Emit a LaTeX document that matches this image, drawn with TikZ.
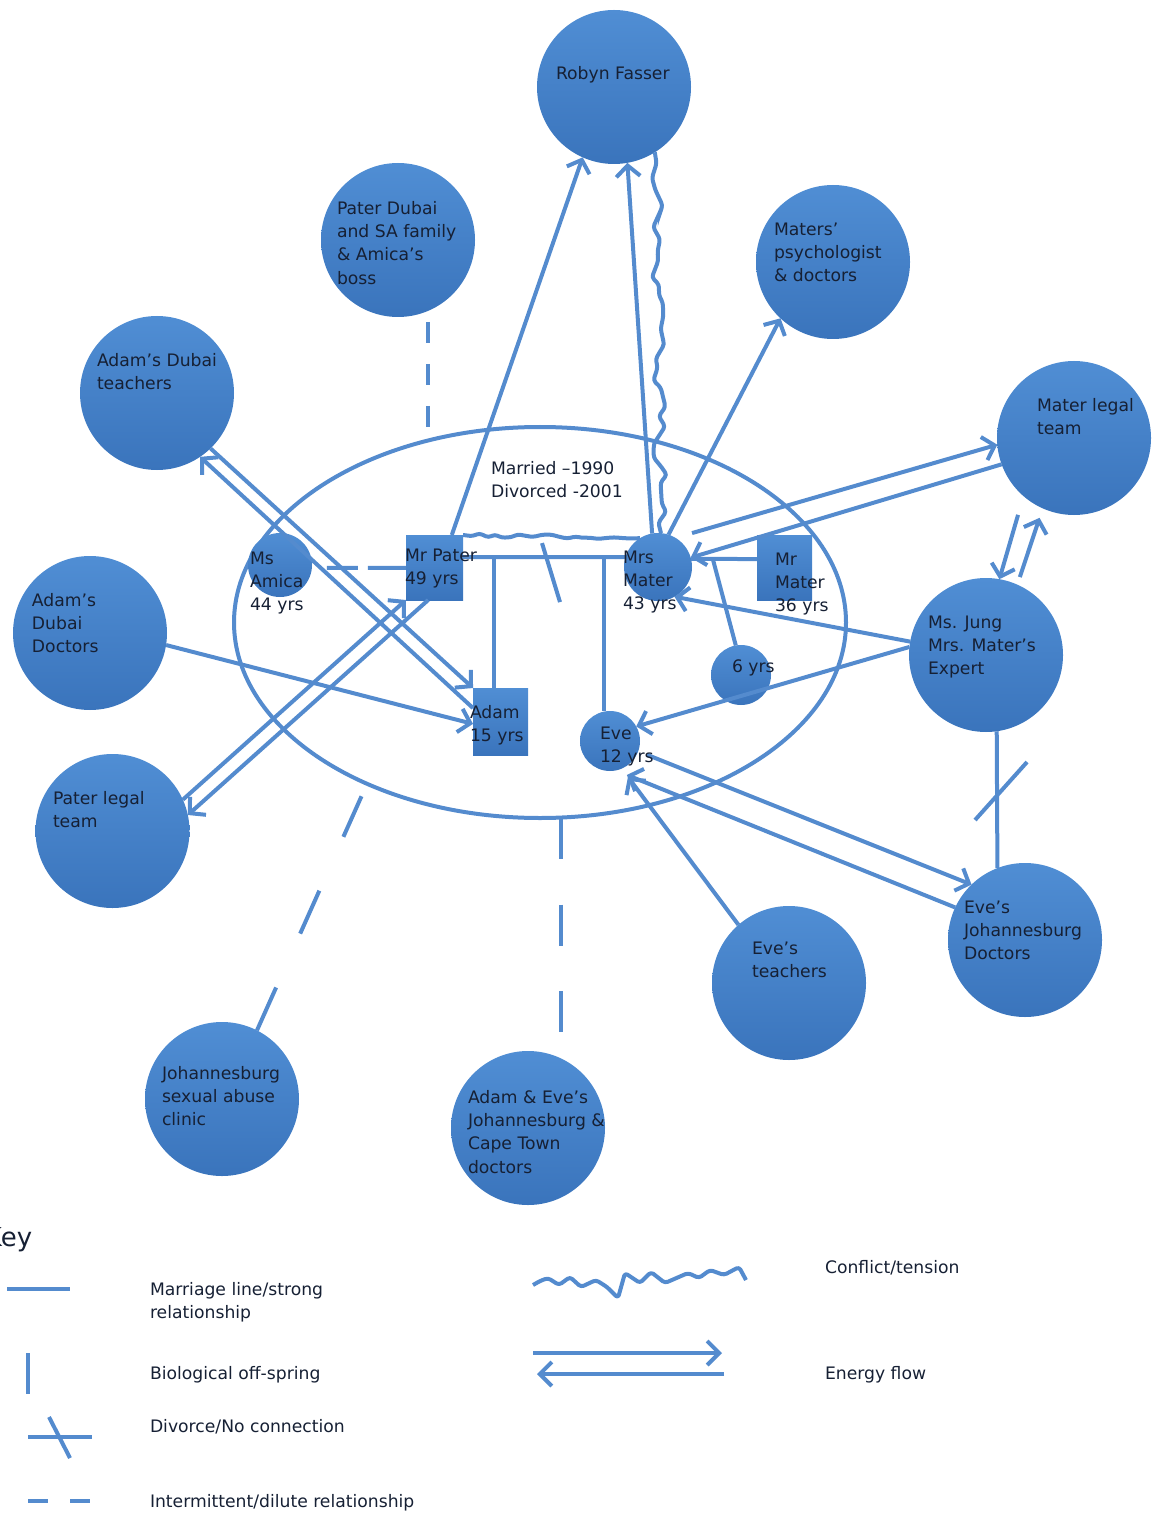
\documentclass[tikz,border=0pt]{standalone}
\usepackage{fontspec}
\setmainfont{DejaVu Sans}
\usetikzlibrary{arrows.meta,shapes.geometric,decorations.pathmorphing}
\definecolor{lineblue}{RGB}{84,139,206}
\definecolor{circtop}{RGB}{80,142,212}
\definecolor{circbot}{RGB}{58,116,188}
\definecolor{txtcol}{RGB}{22,32,52}
\begin{document}
\begin{tikzpicture}[x=0.5pt,y=-0.5pt,
 every node/.style={inner sep=0pt, outer sep=0pt},
 bigc/.style={circle, minimum size=77pt, top color=circtop, bottom color=circbot},
 smallc/.style={circle, top color=circtop, bottom color=circbot},
 sq/.style={rectangle, top color=circtop, bottom color=circbot},
 conn/.style={draw=lineblue, line width=2pt},
 arr/.style={conn, -{Straight Barb[length=5.5pt,width=12pt]}},
 bigarr/.style={conn, -{Straight Barb[length=6pt,width=12pt]}},
 wavy/.style={conn, decorate, decoration={random steps, segment length=6pt, amplitude=3.5pt}, rounded corners=1.5pt},
 lbl/.style={anchor=north west, align=left, text=txtcol, font=\fontsize{8.6}{11.6}\selectfont},
]
\pgfmathsetseed{7}
\useasboundingbox (0,0) rectangle (1152,1513);

% family system
\node[ellipse, draw=lineblue, line width=2pt, minimum width=306pt, minimum height=195.5pt] (family) at (540,622.5) {};

% outer systems
\node[bigc] (robyn) at (614,87) {};
\node[bigc] (paterfam) at (398,240) {};
\node[bigc] (psych) at (833,262) {};
\node[bigc] (adamteach) at (157,393) {};
\node[bigc] (materlegal) at (1074,438) {};
\node[bigc] (adamdoc) at (90,633) {};
\node[bigc] (jung) at (986,655) {};
\node[bigc] (paterlegal) at (112.5,831) {};
\node[bigc] (eveteach) at (789,983) {};
\node[bigc] (evedoc) at (1025,940) {};
\node[bigc] (clinic) at (222,1099) {};
\node[bigc] (jodoc) at (528,1128) {};

% family members
\node[smallc, minimum size=32pt] (amica) at (280,565) {};
\node[sq, minimum width=28.5pt, minimum height=32.5pt] (mrpater) at (434.5,567.5) {};
\node[smallc, minimum size=34pt] (mrsmater) at (658,567) {};
\node[sq, minimum width=27.5pt, minimum height=32.5pt] (mrmater) at (784.5,567.5) {};
\node[smallc, minimum size=30pt] (six) at (741,675) {};
\node[sq, minimum width=27.5pt, minimum height=33.5pt] (adam) at (500.5,721.5) {};
\node[smallc, minimum size=30pt] (eve) at (610,741) {};

% marriage line, children, divorce
\draw[conn] (mrpater.20) -- coordinate[pos=0.19] (kidA) coordinate[pos=0.52] (div1) coordinate[pos=0.867] (kidE) (mrsmater.163);
\draw[conn] (kidA) -- (kidA |- adam.north);
\draw[conn] (kidE) -- (kidE |- eve.north);
\draw[conn] ([shift={(-5.5,-14)}]div1) -- ([shift={(12.5,45)}]div1);
\draw[conn] (mrsmater.14) -- coordinate[pos=0.33] (kid6) (mrmater.163);
\draw[conn] (kid6) -- (six.100);

% intermittent relationships
\draw[conn, dash pattern=on 15.5pt off 5pt on 19pt off 5pt, shorten <=7.5pt] (amica.355) -- (mrpater.181);
\draw[conn, dash pattern=on 10.5pt off 10.5pt, shorten <=5.5pt] (paterfam.293) -- (paterfam.293 |- family.north);
\draw[conn, dash pattern=on 23.5pt off 29.5pt, shorten >=6.85pt] (clinic.63) -- (family.223.2);
\draw[conn, dash pattern=on 20.5pt off 22.75pt, shorten >=13pt] (jodoc.65.4 |- family.south) -- (jodoc.65.4);

% conflict
\draw[wavy] (robyn.302) -- (mrsmater.85);
\draw[wavy, decoration={random steps, segment length=4pt, amplitude=1pt}] (mrpater.north east) -- (mrsmater.122);

% energy flows
\draw[arr] (mrpater.62) -- (robyn.246);
\draw[arr] (mrsmater.100) -- (robyn.280);
\draw[arr] (mrsmater.72) -- (psych.227);
\draw[arr, shorten <=8.6pt] (mrsmater.59) -- (materlegal.185);
\draw[arr] (materlegal.200) -- (mrsmater.16);
\draw[arr, shorten <=9.75pt] (materlegal.229.3) -- (jung.80);
\draw[arr, shorten <=4pt, shorten >=5pt] (jung.66) -- (materlegal.246.4);
\draw[arr] (jung.170) -- (mrsmater.299);
\draw[arr] (jung.174) -- (eve.29);
\draw[arr, shorten <=4.8pt] (eve.340) -- (evedoc.134);
\draw[arr, shorten >=6pt] (evedoc.155) -- (eve.281);
\draw[arr, shorten >=5.2pt] (eveteach.131) -- (eve.293);
\draw[arr] (adamdoc.351) -- (adam.185);
\draw[arr] (adam.154) -- (adamteach.304);
\draw[arr] (adamteach.314) -- (adam.north west);
\draw[arr] (paterlegal.24) -- (mrpater.south west);
\draw[arr] (mrpater.259) -- (paterlegal.12);

% no connection
\draw[conn] (jung.278) -- coordinate[pos=0.46] (div2) (evedoc.111);
\draw[conn] ([shift={(-22,25.8)}]div2) -- ([shift={(30,-32.2)}]div2);

% labels
\node[lbl] (robynT) at (556,66.5) {Robyn Fasser};
\node[lbl] (paterfamT) at (337,201.5) {Pater Dubai\\and SA family\\\& Amica’s\\boss};
\node[lbl] (psychT) at (774,222.5) {Maters’\\psychologist\\\& doctors};
\node[lbl] (adamteachT) at (97,353.5) {Adam’s Dubai\\teachers};
\node[lbl] (materlegalT) at (1037,398.5) {Mater legal\\team};
\node[lbl] (adamdocT) at (32,593.5) {Adam’s\\Dubai\\Doctors};
\node[lbl] (jungT) at (928,615.5) {Ms. Jung\\Mrs. Mater’s\\Expert};
\node[lbl] (paterlegalT) at (53,791.5) {Pater legal\\team};
\node[lbl] (eveteachT) at (752,941.5) {Eve’s\\teachers};
\node[lbl] (evedocT) at (964,900.5) {Eve’s\\Johannesburg\\Doctors};
\node[lbl] (clinicT) at (162,1066.5) {Johannesburg\\sexual abuse\\clinic};
\node[lbl] (jodocT) at (468,1090.5) {Adam \& Eve’s\\Johannesburg \&\\Cape Town\\doctors};
\node[lbl] (marriedT) at (491,461.5) {Married –1990\\Divorced -2001};
\node[lbl] (amicaT) at (250,551.5) {Ms\\Amica\\44 yrs};
\node[lbl] (mrpaterT) at (405,548.5) {Mr Pater\\49 yrs};
\node[lbl] (mrsmaterT) at (623,550.5) {Mrs\\Mater\\43 yrs};
\node[lbl] (mrmaterT) at (775,552.5) {Mr\\Mater\\36 yrs};
\node[lbl] (sixT) at (732,659.5) {6 yrs};
\node[lbl] (adamT) at (470,705.5) {Adam\\15 yrs};
\node[lbl] (eveT) at (600,726.5) {Eve\\12 yrs};

% key
\node[anchor=base west, text=txtcol, font=\fontsize{13}{15}\selectfont] (keyT) at (-15,1246) {Key};
\draw[conn, line width=2.4pt] (7,1289) -- (70,1289);
\node[lbl] (k1T) at (150,1282.5) {Marriage line/strong\\relationship};
\draw[conn] (28,1353) -- (28,1394);
\node[lbl] (k2T) at (150,1366.5) {Biological off-spring};
\draw[conn] (28,1437) -- (92,1437);
\draw[conn] (49,1417) -- (70,1458);
\node[lbl] (k3T) at (150,1419.5) {Divorce/No connection};
\draw[conn, dash pattern=on 10pt off 11pt] (28,1501) -- (92,1501);
\node[lbl] (k4T) at (150,1494.5) {Intermittent/dilute relationship};
\draw[conn, rounded corners=1.5pt, line join=round] (533,1285) -- (540,1281) -- (548,1278) -- (559,1285) -- (570,1277) -- (581,1287) -- (596,1280) -- (607,1287) -- (618,1298) -- (625,1273) -- (640,1283) -- (651,1272) -- (665,1283) -- (688,1273) -- (699,1278) -- (710,1270) -- (724,1275) -- (739,1267) -- (746,1280);
\node[lbl] (k5T) at (825,1260.5) {Conflict/tension};
\draw[bigarr] (533,1353) -- (722,1353);
\draw[bigarr] (724,1374) -- (537,1374);
\node[lbl] (k6T) at (825,1366.5) {Energy flow};
\end{tikzpicture}
\end{document}
